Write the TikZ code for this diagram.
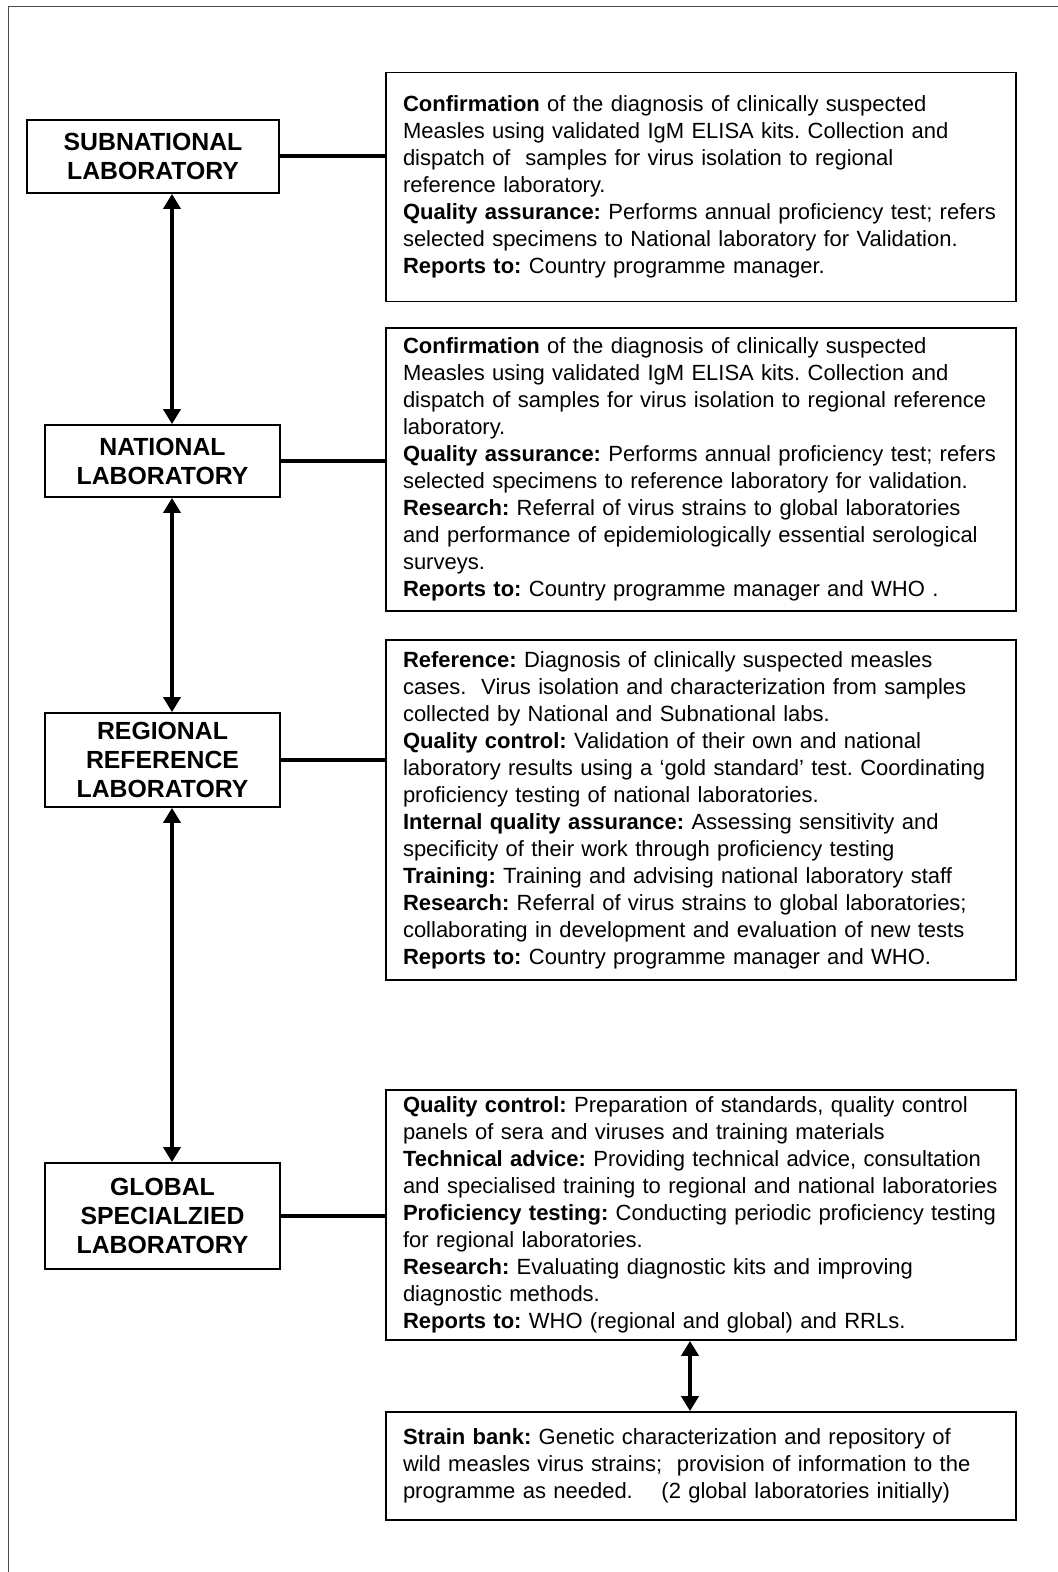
\documentclass[tikz,border=0pt]{standalone}
\usepackage{fontspec}
\setmainfont{Liberation Sans}
\usetikzlibrary{arrows.meta}
\frenchspacing

\begin{document}
\begin{tikzpicture}[x=0.5pt, y=-0.5pt,
  labstyle/.style={draw, line width=0.9pt, inner sep=0pt, align=center,
    font=\fontsize{12.4}{14.5}\selectfont\bfseries},
  infostyle/.style={draw, line width=0.9pt, inner xsep=8.5pt, inner ysep=0pt,
    text width=298pt, minimum height=#1, align=left,
    font=\fontsize{11}{13.5}\selectfont},
  joinline/.style={line width=2pt},
  twoway/.style={line width=2pt,
    {Triangle[width=8.5pt,length=7.5pt]}-{Triangle[width=8.5pt,length=7.5pt]}}]
  \useasboundingbox (0,0) rectangle (1058,1572);
  \clip (0,0) rectangle (1058,1572);
  \draw[gray!60!black, line width=0.75pt] (1070,6.5) -| (8.5,1580);
  % laboratory levels
  \node[labstyle, minimum width=126pt, minimum height=36.5pt] (sub) at (153,156.5) {SUBNATIONAL\\LABORATORY};
  \node[labstyle, minimum width=117.5pt, minimum height=36pt] (nat) at (162.5,461) {NATIONAL\\LABORATORY};
  \node[labstyle, minimum width=117.5pt, minimum height=47pt] (reg) at (162.5,760) {REGIONAL\\REFERENCE\\LABORATORY};
  \node[labstyle, minimum width=117.5pt, minimum height=53pt] (glob) at (162.5,1216) {GLOBAL\\SPECIALZIED\\LABORATORY};
  % tasks of each level
  \node[infostyle=114.5pt] (info1) at (701,187) {\textbf{Confirmation} of the diagnosis of clinically suspected\\
    Measles using validated IgM ELISA kits. Collection and\\
    dispatch of\ \ samples for virus isolation to regional\\
    reference laboratory.\\
    \textbf{Quality assurance:} Performs annual proficiency test; refers\\
    selected specimens to National laboratory for Validation.\\
    \textbf{Reports to:} Country programme manager.};
  \node[infostyle=141.5pt] (info2) at (701,469.5) {\textbf{Confirmation} of the diagnosis of clinically suspected\\
    Measles using validated IgM ELISA kits. Collection and\\
    dispatch of samples for virus isolation to regional reference\\
    laboratory.\\
    \textbf{Quality assurance:} Performs annual proficiency test; refers\\
    selected specimens to reference laboratory for validation.\\
    \textbf{Research:} Referral of virus strains to global laboratories\\
    and performance of epidemiologically essential serological\\
    surveys.\\
    \textbf{Reports to:} Country programme manager and WHO .};
  \node[infostyle=170pt] (info3) at (701,810) {\textbf{Reference:} Diagnosis of clinically suspected measles\\
    cases.\ \ Virus isolation and characterization from samples\\
    collected by National and Subnational labs.\\
    \textbf{Quality control:} Validation of their own and national\\
    laboratory results using a ‘gold standard’ test. Coordinating\\
    proficiency testing of national laboratories.\\
    \textbf{Internal quality assurance:} Assessing sensitivity and\\
    specificity of their work through proficiency testing\\
    \textbf{Training:} Training and advising national laboratory staff\\
    \textbf{Research:} Referral of virus strains to global laboratories;\\
    collaborating in development and evaluation of new tests\\
    \textbf{Reports to:} Country programme manager and WHO.};
  \node[infostyle=125pt] (info4) at (701,1215) {\textbf{Quality control:} Preparation of standards, quality control\\
    panels of sera and viruses and training materials\\
    \textbf{Technical advice:} Providing technical advice, consultation\\
    and specialised training to regional and national laboratories\\
    \textbf{Proficiency testing:} Conducting periodic proficiency testing\\
    for regional laboratories.\\
    \textbf{Research:} Evaluating diagnostic kits and improving\\
    diagnostic methods.\\
    \textbf{Reports to:} WHO (regional and global) and RRLs.};
  \node[infostyle=54pt] (bank) at (701,1466) {\textbf{Strain bank:} Genetic characterization and repository of\\
    wild measles virus strains;\ \ provision of information to the\\
    programme as needed.\hspace{1.3em}(2 global laboratories initially)};
  % connectors
  \coordinate (spine) at (172,0);
  \coordinate (bankx) at (690,0);
  \foreach \a/\b in {sub/nat, nat/reg, reg/glob}
    \draw[twoway] (\a.south -| spine) -- (\b.north -| spine);
  \foreach \a/\b in {sub/info1, nat/info2, reg/info3, glob/info4}
    \draw[joinline] (\a.east) -- (\a.east -| \b.west);
  \draw[twoway] (info4.south -| bankx) -- (bank.north -| bankx);
\end{tikzpicture}
\end{document}
